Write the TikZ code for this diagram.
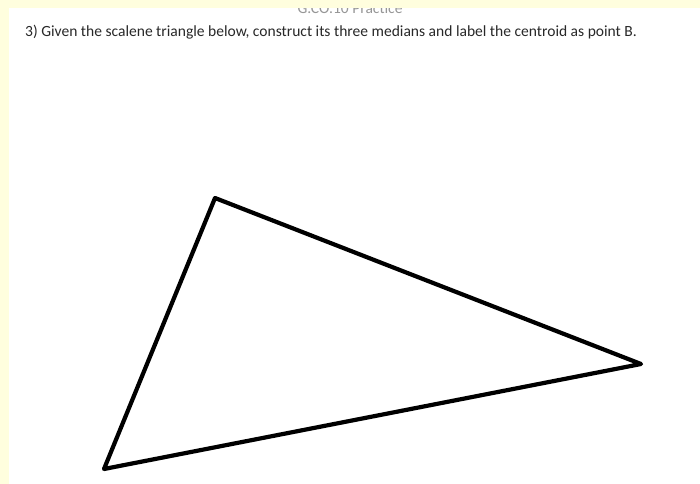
\documentclass[tikz,border=0pt]{standalone}
\usepackage{fontspec}
\setmainfont{Carlito}
\definecolor{PageCream}{RGB}{255,254,222}
\definecolor{HeadGray}{RGB}{150,150,150}
\definecolor{TextInk}{RGB}{40,40,40}

\begin{document}
\begin{tikzpicture}[x=1bp,y=-1bp,
  task/.style={anchor=base west,inner sep=0pt,font=\fontsize{15.6}{18}\selectfont,text=TextInk},
  head/.style={anchor=base,inner sep=0pt,font=\fontsize{15.6}{18}\selectfont,text=HeadGray},
  side/.style={line width=4.2bp,line join=round,line cap=round}]
  \useasboundingbox (0,0) rectangle (700,484);
  \fill[white] (0,0) rectangle (700,484);
  % header, partly hidden under the top band
  \node[head] (hdr) at (350,14) {G.CO.10 Practice};
  \fill[PageCream] (0,0) rectangle (700,8);
  \fill[PageCream] (0,0) rectangle (9,484);
  \node[task] (q) at (25,37) {3) Given the scalene triangle below, construct its three medians and label the centroid as point B.};
  % the triangle
  \coordinate (top) at (215,198);
  \coordinate (right) at (641,364);
  \coordinate (left) at (104,469);
  \draw[side] (left) -- (top) -- (right) -- cycle;
\end{tikzpicture}
\end{document}
